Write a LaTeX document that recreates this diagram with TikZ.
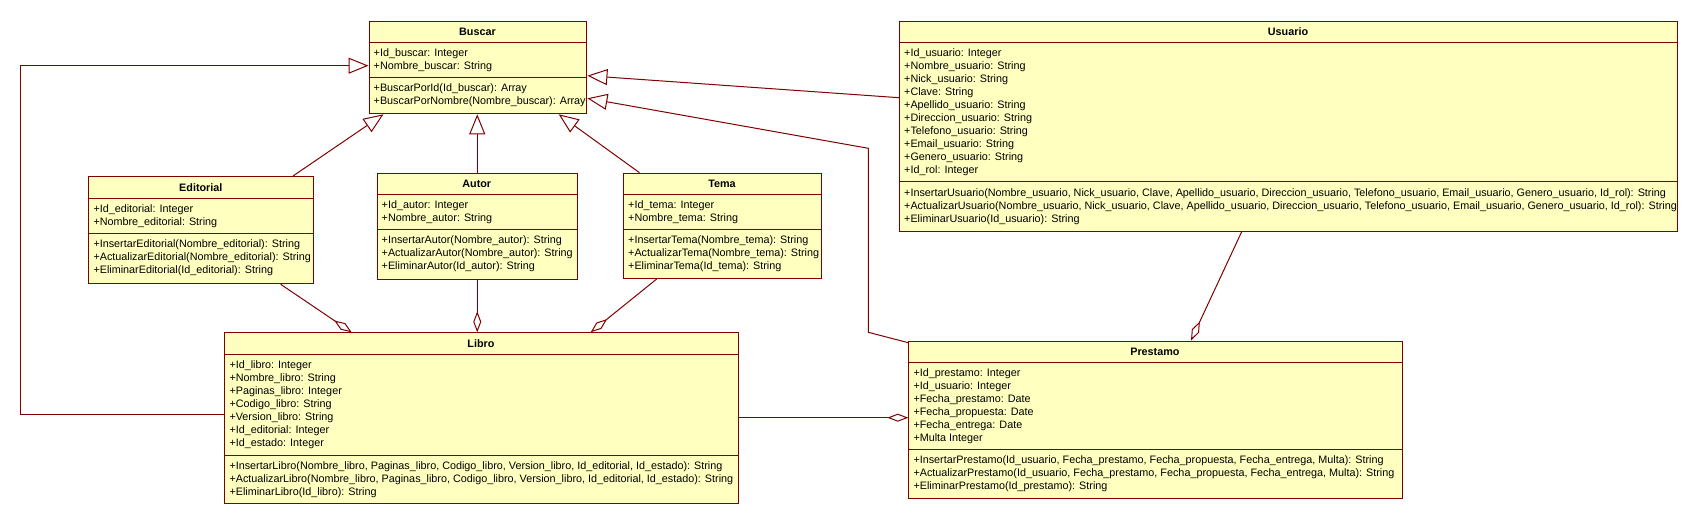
\documentclass[tikz,border=0pt]{standalone}
\usepackage{fontspec}
\setmainfont{Liberation Sans}
\usetikzlibrary{arrows.meta,calc}
\definecolor{umlfill}{RGB}{255,255,192}
\definecolor{umlline}{RGB}{128,0,0}
% #1 name, #2 left, #3 top, #4 right, #5 bottom, #6 divider 1, #7 divider 2
\newcommand{\umlframe}[7]{%
  \node[classbox, minimum width={#4-#2}, minimum height={#5-#3}] (#1) at (#2,#3) {};
  \draw[divider] (#2,#6) -- (#4,#6);
  \draw[divider] (#2,#7) -- (#4,#7);
}
\begin{document}
\begin{tikzpicture}[x=1pt,y=-1pt,
  classbox/.style={draw=umlline, fill=umlfill, line width=1pt, inner sep=0pt, anchor=north west},
  divider/.style={draw=umlline, line width=1pt},
  ctitle/.style={font=\fontsize{10.8}{13}\selectfont\bfseries, inner sep=0pt, text height=7.7pt, text depth=0pt},
  members/.style={font=\fontsize{10.8}{13}\selectfont, inner sep=0pt, anchor=north west, align=left},
  conn/.style={draw=umlline, line width=1pt},
  gen/.style={conn, -{Triangle[open, length=20pt, width=16pt, fill=white]}},
  agg/.style={conn, -{Diamond[open, length=21pt, width=8pt, fill=white]}},
]
\fill[white] (0,0) rectangle (1698,524);
\useasboundingbox (0,0) rectangle (1698,524);

% Buscar
\umlframe{buscar}{368.5}{20.7}{586.4}{113.3}{42.3}{77.3}
\node[ctitle] (buscar-title) at (477.45,31.5) {Buscar};
\node[members] (buscar-attrs) at (373.5,48.3) {+Id\_buscar: Integer\\+Nombre\_buscar: String};
\node[members] (buscar-ops) at (373.5,83.3) {+BuscarPorId(Id\_buscar): Array\\+BuscarPorNombre(Nombre\_buscar): Array};

% Editorial
\umlframe{editorial}{88.3}{176}{313.3}{283.3}{198.3}{233.3}
\node[ctitle] (editorial-title) at (200.8,187.2) {Editorial};
\node[members] (editorial-attrs) at (93.3,204.3) {+Id\_editorial: Integer\\+Nombre\_editorial: String};
\node[members] (editorial-ops) at (93.3,239.3) {+InsertarEditorial(Nombre\_editorial): String\\+ActualizarEditorial(Nombre\_editorial): String\\+EliminarEditorial(Id\_editorial): String};

% Autor
\umlframe{autor}{376.5}{172.7}{577}{279}{194.2}{229}
\node[ctitle] (autor-title) at (476.75,183.5) {Autor};
\node[members] (autor-attrs) at (381.5,200.2) {+Id\_autor: Integer\\+Nombre\_autor: String};
\node[members] (autor-ops) at (381.5,235) {+InsertarAutor(Nombre\_autor): String\\+ActualizarAutor(Nombre\_autor): String\\+EliminarAutor(Id\_autor): String};

% Tema
\umlframe{tema}{623}{172.7}{821}{278}{194.2}{229}
\node[ctitle] (tema-title) at (722,183.5) {Tema};
\node[members] (tema-attrs) at (628,200.2) {+Id\_tema: Integer\\+Nombre\_tema: String};
\node[members] (tema-ops) at (628,235) {+InsertarTema(Nombre\_tema): String\\+ActualizarTema(Nombre\_tema): String\\+EliminarTema(Id\_tema): String};

% Libro
\umlframe{libro}{224.3}{332.3}{737.5}{503.3}{354.3}{455}
\node[ctitle] (libro-title) at (480.9,343.3) {Libro};
\node[members] (libro-attrs) at (229.3,360.3) {+Id\_libro: Integer\\+Nombre\_libro: String\\+Paginas\_libro: Integer\\+Codigo\_libro: String\\+Version\_libro: String\\+Id\_editorial: Integer\\+Id\_estado: Integer};
\node[members] (libro-ops) at (229.3,461) {+InsertarLibro(Nombre\_libro, Paginas\_libro, Codigo\_libro, Version\_libro, Id\_editorial, Id\_estado): String\\+ActualizarLibro(Nombre\_libro, Paginas\_libro, Codigo\_libro, Version\_libro, Id\_editorial, Id\_estado): String\\+EliminarLibro(Id\_libro): String};

% Usuario
\umlframe{usuario}{899}{20.7}{1677}{230.7}{42.3}{181.7}
\node[ctitle] (usuario-title) at (1288,31.5) {Usuario};
\node[members] (usuario-attrs) at (904,48.3) {+Id\_usuario: Integer\\+Nombre\_usuario: String\\+Nick\_usuario: String\\+Clave: String\\+Apellido\_usuario: String\\+Direccion\_usuario: String\\+Telefono\_usuario: String\\+Email\_usuario: String\\+Genero\_usuario: String\\+Id\_rol: Integer};
\node[members] (usuario-ops) at (904,188.2) {+InsertarUsuario(Nombre\_usuario, Nick\_usuario, Clave, Apellido\_usuario, Direccion\_usuario, Telefono\_usuario, Email\_usuario, Genero\_usuario, Id\_rol): String\\+ActualizarUsuario(Nombre\_usuario, Nick\_usuario, Clave, Apellido\_usuario, Direccion\_usuario, Telefono\_usuario, Email\_usuario, Genero\_usuario, Id\_rol): String\\+EliminarUsuario(Id\_usuario): String};

% Prestamo
\umlframe{prestamo}{908.3}{340.5}{1401.5}{498.3}{362.3}{449.3}
\node[ctitle] (prestamo-title) at (1154.9,351.4) {Prestamo};
\node[members] (prestamo-attrs) at (913.3,368.8) {+Id\_prestamo: Integer\\+Id\_usuario: Integer\\+Fecha\_prestamo: Date\\+Fecha\_propuesta: Date\\+Fecha\_entrega: Date\\+Multa Integer};
\node[members] (prestamo-ops) at (913.3,455.8) {+InsertarPrestamo(Id\_usuario, Fecha\_prestamo, Fecha\_propuesta, Fecha\_entrega, Multa): String\\+ActualizarPrestamo(Id\_usuario, Fecha\_prestamo, Fecha\_propuesta, Fecha\_entrega, Multa): String\\+EliminarPrestamo(Id\_prestamo): String};

% Generalizations
\draw[gen] ($(editorial.north west)+(204.7,0)$) -- ($(buscar.south west)+(15,0)$);
\draw[gen] (autor.north) -- (autor.north |- buscar.south);
\draw[gen] ($(tema.north west)+(16.5,0)$) -- ($(buscar.south west)+(190.2,0)$);
\draw[gen] ($(usuario.north west)+(0,77)$) -- ($(buscar.north east)+(0,55)$);
\coordinate (pbendA) at (868.3,332.3);
\coordinate (pbendB) at (868.3,148.3);
\draw[gen] ($(prestamo.north west)+(0,2.2)$) -- (pbendA) -- (pbendB) -- ($(buscar.north east)+(0,77.6)$);
\coordinate (lbendA) at (20.6,414);
\coordinate (lbendB) at (20.6,65.7);
\draw[gen] ($(libro.north west)+(0,81.7)$) -- (lbendA) -- (lbendB) -- ($(buscar.north west)+(0,45)$);

% Aggregations
\draw[agg] ($(editorial.south west)+(192.4,0)$) -- ($(libro.north west)+(127.4,0)$);
\draw[agg] (autor.south) -- (autor.south |- libro.north);
\draw[agg] ($(tema.south west)+(33.7,0)$) -- ($(libro.north west)+(366.4,0)$);
\draw[agg] ($(libro.north east)+(0,85.4)$) -- ($(prestamo.north west)+(0,77.2)$);
\draw[agg] ($(usuario.south west)+(342.7,0)$) -- ($(prestamo.north west)+(282.7,0)$);
\end{tikzpicture}
\end{document}
